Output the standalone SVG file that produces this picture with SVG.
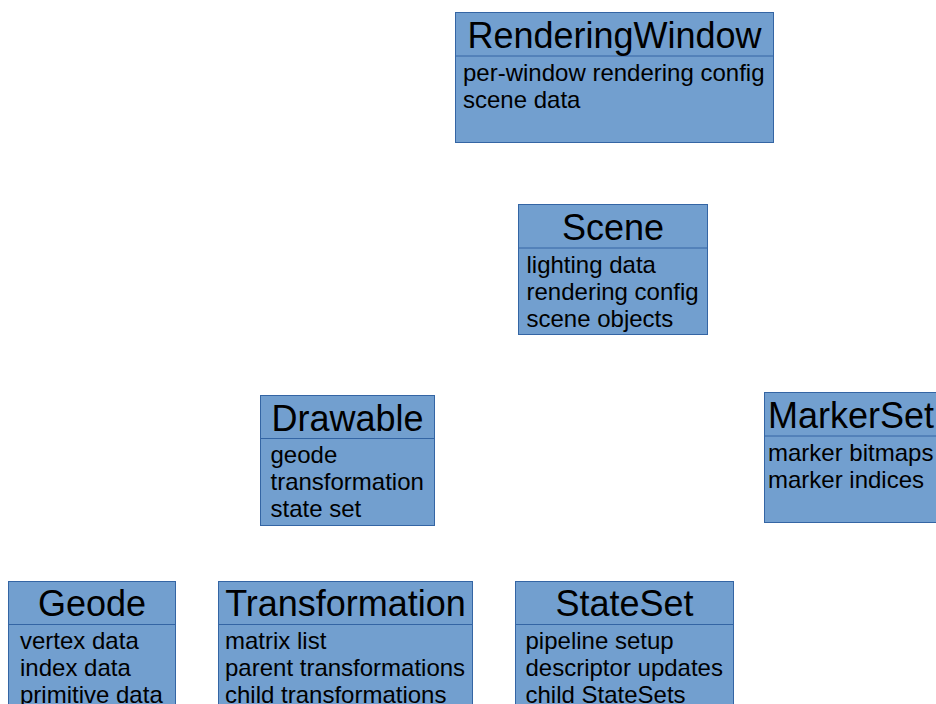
<svg xmlns="http://www.w3.org/2000/svg" width="936" height="704" viewBox="0 0 936 704">
  <style>
    .box { fill: #729fcf; stroke: #3465a4; stroke-width: 1; }
    .div { stroke: #3465a4; stroke-width: 1; }
    .title { font-family: "Liberation Sans", Arial, sans-serif; font-size: 36px; fill: #000; text-anchor: middle; }
    .body { font-family: "Liberation Sans", Arial, sans-serif; font-size: 24px; fill: #000; }
  </style>
  <rect width="936" height="704" fill="#ffffff"/>

  <g id="connectors"></g>

  <g id="RenderingWindow">
    <rect class="box" x="455.5" y="12.5" width="318" height="130"/>
    <line class="div" x1="455.5" y1="56" x2="773.5" y2="56"/>
    <text class="title" x="614.5" y="47.5">RenderingWindow</text>
    <text class="body" x="463" y="81">per-window rendering config</text>
    <text class="body" x="463" y="107.8">scene data</text>
  </g>

  <g id="Scene">
    <rect class="box" x="518.5" y="204.5" width="189" height="130"/>
    <line class="div" x1="518.5" y1="248" x2="707.5" y2="248"/>
    <text class="title" x="613" y="239.5">Scene</text>
    <text class="body" x="526.5" y="273">lighting data</text>
    <text class="body" x="526.5" y="299.8">rendering config</text>
    <text class="body" x="526.5" y="326.6">scene objects</text>
  </g>

  <g id="Drawable">
    <rect class="box" x="260.5" y="395.5" width="174" height="130"/>
    <line class="div" x1="260.5" y1="438.5" x2="434.5" y2="438.5"/>
    <text class="title" x="347.5" y="430.5">Drawable</text>
    <text class="body" x="270.5" y="463">geode</text>
    <text class="body" x="270.5" y="489.8">transformation</text>
    <text class="body" x="270.5" y="516.6">state set</text>
  </g>

  <g id="MarkerSet">
    <rect class="box" x="764.5" y="392.5" width="180" height="130"/>
    <line class="div" x1="764.5" y1="436" x2="944.5" y2="436"/>
    <text class="title" x="851" y="427.5">MarkerSet</text>
    <text class="body" x="768" y="461">marker bitmaps</text>
    <text class="body" x="768" y="487.8">marker indices</text>
  </g>

  <g id="Geode">
    <rect class="box" x="8.5" y="581.5" width="167" height="130"/>
    <line class="div" x1="8.5" y1="624.5" x2="175.5" y2="624.5"/>
    <text class="title" x="92" y="616">Geode</text>
    <text class="body" x="20" y="649">vertex data</text>
    <text class="body" x="20" y="675.8">index data</text>
    <text class="body" x="20" y="702.6">primitive data</text>
  </g>

  <g id="Transformation">
    <rect class="box" x="218.5" y="581.5" width="254" height="130"/>
    <line class="div" x1="218.5" y1="624.5" x2="472.5" y2="624.5"/>
    <text class="title" x="345.5" y="616">Transformation</text>
    <text class="body" x="225" y="649">matrix list</text>
    <text class="body" x="225" y="675.8">parent transformations</text>
    <text class="body" x="225" y="702.6">child transformations</text>
  </g>

  <g id="StateSet">
    <rect class="box" x="515.5" y="581.5" width="218" height="130"/>
    <line class="div" x1="515.5" y1="624.5" x2="733.5" y2="624.5"/>
    <text class="title" x="624.5" y="616">StateSet</text>
    <text class="body" x="525.5" y="649">pipeline setup</text>
    <text class="body" x="525.5" y="675.8">descriptor updates</text>
    <text class="body" x="525.5" y="702.6">child StateSets</text>
  </g>
</svg>
